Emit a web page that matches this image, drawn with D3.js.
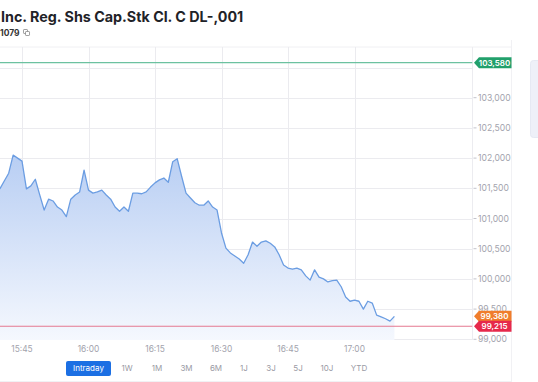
<!DOCTYPE html>
<html><head><meta charset="utf-8">
<script src="https://cdn.jsdelivr.net/npm/d3@7"></script>
<style>
html,body{margin:0;padding:0;background:#fff;}
svg{display:block;font-family:Inter,"Noto Sans",sans-serif;}
</style></head>
<body>
<svg id="c" width="538" height="382"></svg>
<script>
// ---- data ----
const titleText = "Inc. Reg. Shs Cap.Stk Cl. C DL-,001";
const subText = "1079";
const startTime = "15:40";
const prices = [101490,101620,101750,102050,102000,101950,101490,101540,101650,101390,
101140,101320,101290,101190,101140,101030,101320,101390,101440,101800,
101470,101420,101440,101470,101390,101320,101190,101120,101190,101120,
101420,101420,101410,101440,101520,101590,101640,101670,101600,101940,
101990,101700,101420,101340,101260,101220,101220,101290,101190,101140,
100760,100510,100430,100380,100330,100260,100400,100610,100540,100610,
100630,100590,100530,100400,100230,100180,100160,100180,100150,100050,
99980,100150,100030,100000,99950,99970,99980,99870,99700,99630,
99650,99630,99500,99630,99600,99400,99370,99340,99300,99380];
const yTicks = [99000,99500,100000,100500,101000,101500,102000,102500,103000,103500];
const yTickLabels = [99000,99500,100000,100500,101000,101500,102000,102500,103000];
const xTickLabels = ["15:45","16:00","16:15","16:30","16:45","17:00"];
const markers = [
  {value:103580, label:"103,580", color:"#22a06b", line:"#6cc1a0"},
  {value:99380,  label:"99,380",  color:"#f07d2c", line:null},
  {value:99215,  label:"99,215",  color:"#e6294b", line:"#e57890"}
];
const ranges = ["Intraday","1W","1M","3M","6M","1J","3J","5J","10J","YTD"];

// ---- setup ----
const svg = d3.select("#c");
const parseT = d3.timeParse("%H:%M");
const t0 = parseT(startTime);
const data = prices.map((v,i)=>({t:d3.timeMinute.offset(t0,i), v}));

const plotL = 0, plotR = 472.5, plotT = 47, plotB = 340;
const x = d3.scaleTime().domain([parseT("15:45"), parseT("17:00")]).range([22, 354.5]);
const y = d3.scaleLinear().domain([99000, 103000]).range([339.3, 97.7]);

// title
svg.append("text").attr("x",1).attr("y",22).attr("font-size",14.3).attr("font-weight",700)
  .attr("fill","#1f2328").text(titleText);
svg.append("text").attr("x",0).attr("y",35.5).attr("font-size",8.5).attr("font-weight",700)
  .attr("fill","#333").text(subText);
// copy icon
const ic = svg.append("g").attr("fill","none").attr("stroke","#888").attr("stroke-width",0.8);
ic.append("rect").attr("x",23.5).attr("y",29.5).attr("width",4).attr("height",4).attr("rx",0.6);
ic.append("rect").attr("x",25.5).attr("y",31.5).attr("width",4).attr("height",4).attr("rx",0.6).attr("fill","#fff");

// top border
svg.append("line").attr("x1",0).attr("x2",512).attr("y1",plotT).attr("y2",plotT)
  .attr("stroke","#f0f0f3").attr("stroke-width",1);
// right container border
svg.append("line").attr("x1",511.5).attr("x2",511.5).attr("y1",40).attr("y2",382)
  .attr("stroke","#f1f1f4");
svg.append("line").attr("x1",0).attr("x2",511.5).attr("y1",381.5).attr("y2",381.5)
  .attr("stroke","#f1f1f4");
// side panel
svg.append("rect").attr("x",530.5).attr("y",60.5).attr("width",12).attr("height",77).attr("rx",3)
  .attr("fill","#eef0f8").attr("stroke","#e6e9f3");

// gridlines
const gx = svg.append("g");
gx.selectAll("line.h").data(yTicks).join("line").attr("class","h")
  .attr("x1",plotL).attr("x2",plotR).attr("y1",d=>Math.round(y(d))+0.5).attr("y2",d=>Math.round(y(d))+0.5)
  .attr("stroke","#ebebef").attr("stroke-width",1);
gx.selectAll("line.v").data(xTickLabels).join("line").attr("class","v")
  .attr("x1",d=>Math.round(x(parseT(d)))+0.5).attr("x2",d=>Math.round(x(parseT(d)))+0.5)
  .attr("y1",plotT).attr("y2",plotB)
  .attr("stroke","#ebebef").attr("stroke-width",1);
// right axis line
svg.append("line").attr("x1",plotR).attr("x2",plotR).attr("y1",plotT).attr("y2",plotB)
  .attr("stroke","#ececf0");

// area gradient
const defs = svg.append("defs");
const grad = defs.append("linearGradient").attr("id","g1").attr("gradientUnits","userSpaceOnUse")
  .attr("x1",0).attr("x2",0).attr("y1",y(102050)).attr("y2",plotB);
grad.append("stop").attr("offset",0).attr("stop-color","#b8cef3");
grad.append("stop").attr("offset",1).attr("stop-color","#f5f8fe");
defs.append("clipPath").attr("id","clip").append("rect")
  .attr("x",plotL).attr("y",plotT).attr("width",plotR-plotL).attr("height",plotB-plotT);

const g = svg.append("g").attr("clip-path","url(#clip)");
g.append("path").datum(data)
  .attr("d", d3.area().x(d=>x(d.t)).y0(plotB).y1(d=>y(d.v)))
  .attr("fill","url(#g1)");
// marker lines
markers.filter(m=>m.line).forEach(m=>{
  g.append("line").attr("x1",plotL).attr("x2",plotR).attr("y1",y(m.value)).attr("y2",y(m.value))
    .attr("stroke",m.line).attr("stroke-width",1.1);
});
g.append("path").datum(data)
  .attr("d", d3.line().x(d=>x(d.t)).y(d=>y(d.v)))
  .attr("fill","none").attr("stroke","#6b9de2").attr("stroke-width",1.3).attr("stroke-linejoin","round");

// y axis labels
const fmt = d3.format(",");
const ya = svg.append("g");
ya.selectAll("line").data(yTickLabels).join("line")
  .attr("x1",plotR+1).attr("x2",plotR+4).attr("y1",d=>y(d)).attr("y2",d=>y(d))
  .attr("stroke","#c4c4cc");
ya.selectAll("text").data(yTickLabels).join("text")
  .attr("x",478).attr("y",d=>y(d)+3).attr("font-size",8.6).attr("fill","#a3a3ad")
  .text(d=>fmt(d));

// x axis labels
svg.append("g").selectAll("text").data(xTickLabels).join("text")
  .attr("x",d=>x(parseT(d))).attr("y",352).attr("text-anchor","middle")
  .attr("font-size",8.4).attr("fill","#a3a3ad").text(d=>d);

// marker tags
markers.forEach(m=>{
  const cy = y(m.value);
  const mg = svg.append("g");
  const xl = 474, xr = 511.5, h = 11;
  mg.append("path")
    .attr("d",`M${xl},${cy} L${xl+5},${cy-h/2} L${xr},${cy-h/2} L${xr},${cy+h/2} L${xl+5},${cy+h/2} Z`)
    .attr("fill",m.color);
  mg.append("text").attr("x",494.5).attr("y",cy+3).attr("text-anchor","middle")
    .attr("font-size",8).attr("font-weight",600).attr("fill","#fff").text(m.label);
});

// range buttons
const btnPos = {"Intraday":88.5,"1W":127,"1M":157,"3M":186.5,"6M":216,"1J":244,"3J":271,"5J":298,"10J":327,"YTD":359};
const bg = svg.append("g");
bg.append("rect").attr("x",66).attr("y",361).attr("width",45).attr("height",15).attr("rx",2)
  .attr("fill","#1c6fe3");
bg.selectAll("text").data(ranges).join("text")
  .attr("x",d=>btnPos[d]).attr("y",371).attr("text-anchor","middle")
  .attr("font-size",8).attr("fill",(d,i)=>i===0?"#fff":"#9a9aa4").text(d=>d);
</script>
</body></html>
